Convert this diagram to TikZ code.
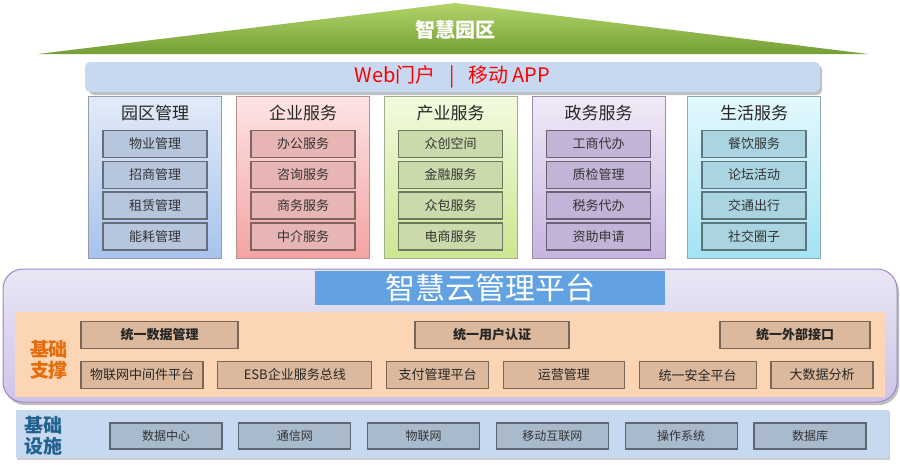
\documentclass[tikz,border=0pt]{standalone}
\usepackage{fontspec}
\setmainfont{Noto Sans CJK SC}
\usetikzlibrary{positioning}

\definecolor{webblue}{HTML}{C6D9F0}
\definecolor{webred}{HTML}{FF0000}
\definecolor{cloudtop}{HTML}{EAE6F5}
\definecolor{cloudbot}{HTML}{CFC4E8}
\definecolor{cloudline}{HTML}{9C88C4}
\definecolor{titleblue}{HTML}{63A2E2}
\definecolor{panelorange}{HTML}{FCD5B5}
\definecolor{orangebox}{HTML}{DCB99C}
\definecolor{orangetext}{HTML}{E46C0A}
\definecolor{basebox}{HTML}{A9BACD}
\definecolor{basetext}{HTML}{23628F}
\definecolor{greentop}{HTML}{B3D46A}
\definecolor{greenbot}{HTML}{74A036}
\definecolor{itemA}{HTML}{B6C6DC}
\definecolor{itemB}{HTML}{E7B5B3}
\definecolor{itemC}{HTML}{CADAAB}
\definecolor{itemD}{HTML}{C3B3D7}
\definecolor{itemE}{HTML}{AAD4DF}
\definecolor{topA}{HTML}{E2EBF8}
\definecolor{botA}{HTML}{A7C3EC}
\definecolor{topB}{HTML}{FDE4E4}
\definecolor{botB}{HTML}{F4A3A3}
\definecolor{topC}{HTML}{F3FADF}
\definecolor{botC}{HTML}{CBE691}
\definecolor{topD}{HTML}{F0EAF7}
\definecolor{botD}{HTML}{C7B3E0}
\definecolor{topE}{HTML}{E4F8FD}
\definecolor{botE}{HTML}{A3E3F4}

\begin{document}
\begin{tikzpicture}[x=1pt, y=-1pt, node distance={2.5pt},
    colbox/.style = {anchor=north, minimum width=133pt, minimum height=162pt, line width=0.8pt},
    coltitle/.style = {font=\fontsize{17}{17}\selectfont, text=black!85},
    item/.style = {draw=#1!55!black, fill=#1, line width=1.3pt, minimum width=104pt, minimum height=27pt,
        inner sep=0pt, font=\fontsize{13}{13}\selectfont, text=black!80},
    support/.style = {draw=orangebox!55!black, fill=orangebox, line width=1.3pt, minimum height=27pt,
        inner sep=0pt, font=\fontsize{13}{13}\selectfont, text=black!85},
    base/.style = {draw=basebox!55!black, fill=basebox, line width=1.3pt, minimum width=112pt, minimum height=26pt,
        inner sep=0pt, font=\fontsize{12}{12}\selectfont, text=black!80}]
    \useasboundingbox (0,0) rectangle (900,464);

    %roof
    \shade[top color=greentop, bottom color=greenbot] (455,3) -- (868,54) -- (38,54) -- cycle;
    \node[text=white, font=\bfseries\fontsize{20}{20}\selectfont] (park) at (455,30) {智慧园区};

    \fill[black!25, rounded corners=5pt] (89,65) rectangle (822,95);
    \node[fill=webblue, rounded corners=5pt, minimum width=735pt, minimum height=30pt,
        text=webred, font=\fontsize{20}{20}\selectfont] (web) at (452.5,77) {Web门户 \ \ | \ \ 移动 APP};

    %application columns
    \node[colbox, draw=itemA!80!black, top color=topA, bottom color=botA] (c1) at (155,96) {};
    \node[colbox, draw=itemB!80!black, top color=topB, bottom color=botB] (c2) at (303,96) {};
    \node[colbox, draw=itemC!80!black, top color=topC, bottom color=botC] (c3) at (450.5,96) {};
    \node[colbox, draw=itemD!80!black, top color=topD, bottom color=botD] (c4) at (598.5,96) {};
    \node[colbox, draw=itemE!80!black, top color=topE, bottom color=botE] (c5) at (754,96) {};

    \node[coltitle] (t1) at (155,113) {园区管理};
    \node[coltitle] (t2) at (303,113) {企业服务};
    \node[coltitle] (t3) at (450.5,113) {产业服务};
    \node[coltitle] (t4) at (598.5,113) {政务服务};
    \node[coltitle] (t5) at (754,113) {生活服务};

    \node[item=itemA] (a1) at (155,144) {物业管理};
    \node[item=itemA] (a2) [below=of a1] {招商管理};
    \node[item=itemA] (a3) [below=of a2] {租赁管理};
    \node[item=itemA] (a4) [below=of a3] {能耗管理};

    \node[item=itemB] (b1) at (303,144) {办公服务};
    \node[item=itemB] (b2) [below=of b1] {咨询服务};
    \node[item=itemB] (b3) [below=of b2] {商务服务};
    \node[item=itemB] (b4) [below=of b3] {中介服务};

    \node[item=itemC] (d1) at (450.5,144) {众创空间};
    \node[item=itemC] (d2) [below=of d1] {金融服务};
    \node[item=itemC] (d3) [below=of d2] {众包服务};
    \node[item=itemC] (d4) [below=of d3] {电商服务};

    \node[item=itemD] (e1) at (598.5,144) {工商代办};
    \node[item=itemD] (e2) [below=of e1] {质检管理};
    \node[item=itemD] (e3) [below=of e2] {税务代办};
    \node[item=itemD] (e4) [below=of e3] {资助申请};

    \node[item=itemE] (f1) at (754,144) {餐饮服务};
    \node[item=itemE] (f2) [below=of f1] {论坛活动};
    \node[item=itemE] (f3) [below=of f2] {交通出行};
    \node[item=itemE] (f4) [below=of f3] {社交圈子};

    %cloud platform
    \fill[black!25, rounded corners=20pt] (5,272) rectangle (899,405);
    \node[draw=cloudline, line width=1pt, rounded corners=20pt, top color=cloudtop, bottom color=cloudbot,
        minimum width=894pt, minimum height=133pt] (cloud) at (450,335.5) {};
    \node[fill=titleblue, minimum width=350pt, minimum height=34pt, inner sep=0pt,
        text=white, font=\fontsize{30}{30}\selectfont] (cloudtitle) at (490,288) {智慧云管理平台};
    \node[fill=panelorange, minimum width=870pt, minimum height=85pt] (panel) at (450,354.5) {};
    \node[text=orangetext, align=center, font=\bfseries\fontsize{19}{21}\selectfont] (sup) at (49,360) {基础\\支撑};

    \node[support, minimum width=157pt, font=\bfseries\fontsize{13}{13}\selectfont] (s1) at (159.5,335) {统一数据管理};
    \node[support, minimum width=154pt, font=\bfseries\fontsize{13}{13}\selectfont] (s2) at (492,335) {统一用户认证};
    \node[support, minimum width=150pt, font=\bfseries\fontsize{13}{13}\selectfont] (s3) at (795,335) {统一外部接口};

    \node[support, minimum width=122pt] (r1) at (142,375) {物联网中间件平台};
    \node[support, minimum width=154pt] (r2) [right=13.5pt of r1] {ESB企业服务总线};
    \node[support, minimum width=102pt] (r3) [right=13.5pt of r2] {支付管理平台};
    \node[support, minimum width=121pt] (r4) [right=13.5pt of r3] {运营管理};
    \node[support, minimum width=117pt] (r5) [right=13.5pt of r4] {统一安全平台};
    \node[support, minimum width=102pt] (r6) [right=13.5pt of r5] {大数据分析};

    %infrastructure
    \fill[black!20] (17,412) rectangle (890,460);
    \node[fill=webblue, minimum width=873pt, minimum height=48pt] (infra) at (452,434) {};
    \node[text=basetext, align=center, font=\bfseries\fontsize{19}{21}\selectfont] (fac) at (43,436) {基础\\设施};

    \node[base] (g1) at (166,436) {数据中心};
    \node[base] (g2) [right=15.5pt of g1] {通信网};
    \node[base] (g3) [right=15.5pt of g2] {物联网};
    \node[base] (g4) [right=15.5pt of g3] {移动互联网};
    \node[base] (g5) [right=15.5pt of g4] {操作系统};
    \node[base] (g6) [right=15.5pt of g5] {数据库};
\end{tikzpicture}
\end{document}
